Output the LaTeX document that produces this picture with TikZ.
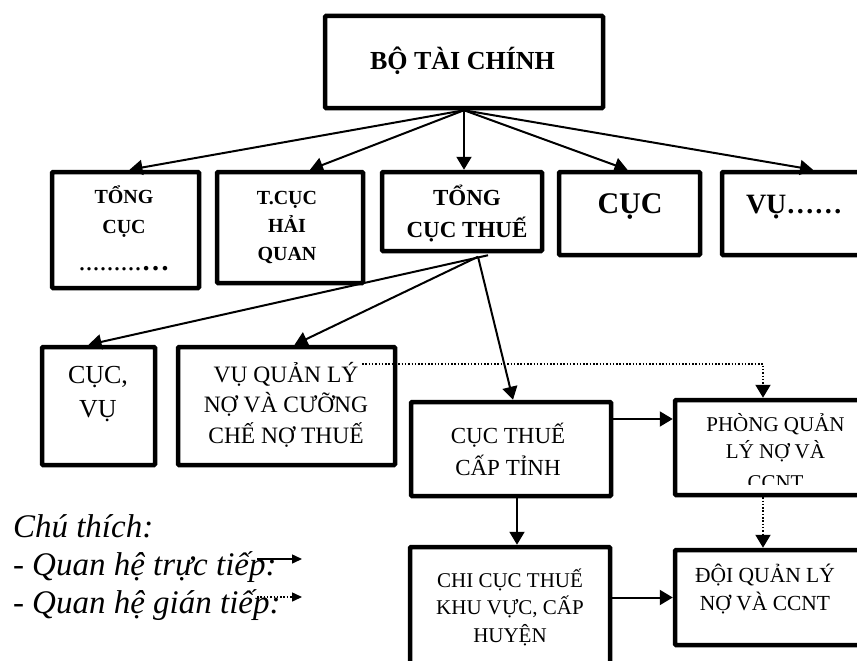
\documentclass[tikz,border=0pt]{standalone}
\usepackage{fontspec}
\setmainfont{Liberation Serif}
\usetikzlibrary{arrows.meta}

\begin{document}
\begin{tikzpicture}[->, >={Triangle[length=13pt,width=15pt]}, x=1pt, y=-1pt, line width=2pt,
    box/.style={draw, line width=4.5pt, rounded corners=1pt, inner sep=0pt},
    txt/.style={anchor=base, align=center, inner sep=0pt},
    indirect/.style={dash pattern=on 1.5pt off 1.8pt},
    small/.style={line width=1.5pt, -{Triangle[length=10pt,width=9pt]}}]
    \useasboundingbox (0,0) rectangle (857,661);
    \clip (0,0) rectangle (857,661);

    \node[box, minimum width=278pt, minimum height=92pt] (btc) at (464,62) {};
    \node[box, minimum width=147pt, minimum height=116pt] (tc) at (125.5,230) {};
    \node[box, minimum width=146pt, minimum height=111pt] (hq) at (290,227.5) {};
    \node[box, minimum width=160pt, minimum height=79pt] (tct) at (462,211.5) {};
    \node[box, minimum width=141pt, minimum height=83pt] (cuc) at (629.5,213.5) {};
    \node[box, minimum width=166pt, minimum height=83pt] (vu) at (805,213.5) {};
    \node[box, minimum width=113pt, minimum height=118pt] (cv) at (98.5,406) {};
    \node[box, minimum width=217pt, minimum height=118pt] (vql) at (286.5,406) {};
    \node[box, minimum width=200pt, minimum height=94pt] (ctt) at (511,449) {};
    \node[box, minimum width=203pt, minimum height=95pt] (pqly) at (776.5,447.5) {};
    \node[box, minimum width=200pt, minimum height=151pt] (ccq) at (510,622.5) {};
    \node[box, minimum width=203pt, minimum height=95pt] (dqly) at (776.5,597.5) {};

    \node[txt, font=\fontsize{26}{30}\selectfont\bfseries] (btc-t) at (462.5,70) {BỘ TÀI CHÍNH};
    \node[txt, font=\fontsize{20}{30}\selectfont\bfseries] (tc-t) at (124,270)
        {TỔNG\\CỤC\\[7pt]{\mdseries\fontsize{28}{28}\selectfont .........\bfseries …}};
    \node[txt, font=\fontsize{20}{28}\selectfont\bfseries] (hq-t) at (287,260) {T.CỤC\\HẢI\\QUAN};
    \node[txt, font=\fontsize{23}{32}\selectfont\bfseries] (tct-t) at (467,237) {TỔNG\\CỤC THUẾ};
    \node[txt, font=\fontsize{30}{34}\selectfont\bfseries] (cuc-t) at (630,213) {CỤC};
    \node[txt, anchor=base west, font=\fontsize{28}{32}\selectfont\bfseries] (vu-t) at (745,213) {VỤ……};
    \node[txt, font=\fontsize{26}{34}\selectfont] (cv-t) at (98,417) {CỤC,\\VỤ};
    \node[txt, font=\fontsize{23.5}{30.5}\selectfont] (vql-t) at (286,443) {VỤ QUẢN LÝ\\NỢ VÀ CƯỠNG\\CHẾ NỢ THUẾ};
    \node[txt, font=\fontsize{23}{32}\selectfont] (ctt-t) at (508,475) {CỤC THUẾ\\CẤP TỈNH};
    \begin{scope}
        \clip ([shift={(4,4)}]pqly.north west) rectangle ([shift={(-4,-13)}]pqly.south east);
        \node[txt, font=\fontsize{21}{27}\selectfont] (pqly-t) at (775.5,489) {PHÒNG QUẢN\\LÝ NỢ VÀ\\[4pt]CCNT};
    \end{scope}
    \node[txt, font=\fontsize{21}{27.5}\selectfont] (ccq-t) at (510,642) {CHI CỤC THUẾ\\KHU VỰC, CẤP\\HUYỆN};
    \node[txt, font=\fontsize{21.5}{28}\selectfont] (dqly-t) at (765,610) {ĐỘI QUẢN LÝ\\NỢ VÀ CCNT};
    \node[txt, anchor=base west, align=left, font=\fontsize{33}{38}\selectfont\itshape] (note) at (12,613)
        {Chú thích:\\- Quan hệ trực tiếp:\\- Quan hệ gián tiếp:};

    \draw (btc.south) -- ([xshift=4pt]tc.north);
    \draw (btc.south) -- ([xshift=20pt]hq.north);
    \draw (btc.south) -- (btc.south |- tct.north);
    \draw (btc.south) -- ([xshift=-2pt]cuc.north);
    \draw (btc.south) -- ([xshift=8pt]vu.north);

    \coordinate (tcj) at ([xshift=16pt,yshift=-3.5pt]tct.south);
    \coordinate (tcs) at ([xshift=26pt,yshift=-2pt]tct.south);
    \draw (tcs) -- ([xshift=-10pt]cv.north);
    \draw (tcj) -- ([xshift=8pt]vql.north);
    \draw (tcj) -- ([xshift=2pt]ctt.north);

    \coordinate (vqld) at (362,364);
    \draw[indirect] (vqld) -| ([xshift=-13.5pt]pqly.north);
    \draw ([yshift=30pt]ctt.east) -- ([yshift=30pt]ctt.east -| pqly.west);
    \draw ([xshift=6pt]ctt.south) -- ([xshift=6pt]ctt.south |- ccq.north);
    \draw[indirect] ([xshift=-13.5pt]pqly.south) -- ([xshift=-13.5pt]dqly.north);
    \draw (dqly.west -| ccq.east) -- (dqly.west);

    \coordinate (l1a) at (257,559);
    \coordinate (l1b) at (302,559);
    \coordinate (l2a) at (257,597);
    \coordinate (l2b) at (302,597);
    \draw[small] (l1a) -- (l1b);
    \draw[small, indirect] (l2a) -- (l2b);
\end{tikzpicture}
\end{document}
